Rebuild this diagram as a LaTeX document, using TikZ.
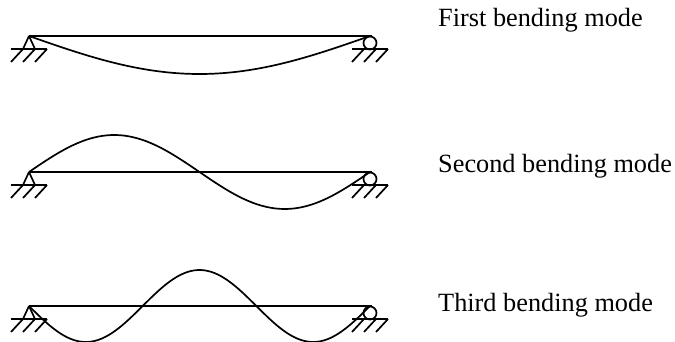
\documentclass[tikz,border=0pt]{standalone}
\usepackage{fontspec}
\setmainfont{Liberation Serif}
\tikzset{
  line/.style={line width=1.7pt,line join=miter},
  modelabel/.style={anchor=base west,inner sep=0pt,font=\fontsize{26.3}{30}\selectfont},
}
\begin{document}
\begin{tikzpicture}[x=1pt,y=-1pt]
\useasboundingbox (0,0) rectangle (675,342);
\clip (0,0) rectangle (675,342);
\foreach \y/\k/\a in {36/1/-38,172/2/37,306/3/36}{
  \begin{scope}[yshift=-\y pt,line]
    \coordinate (L) at (29,0);
    \coordinate (R) at (370,0);
    \node[circle,draw,line width=1.7pt,minimum size=13pt,inner sep=0pt] (roll) at (370,7) {};
    \draw (L) -- (372,0);
    \draw (L) -- (23,13) (L) -- (35,13);
    \draw (11,13) -- (47,13) (352,13) -- (388,13);
    \foreach \h in {11,23,35}{\draw (\h,26) -- (\h+12,13);}
    \foreach \h in {352,364,376}{\draw (\h,26) -- (\h+12,13);}
  \end{scope}
}
\draw[line,smooth] plot[domain=0:1,samples=60] ({29+341*\x},{36+38*sin(180*\x)});
\draw[line,smooth] plot[domain=0:1,samples=80] ({29+341*\x},{172-37*sin(360*\x)});
\draw[line,smooth] plot[domain=0:1,samples=100] ({29+341*\x},{306+36*sin(540*\x)});
\node[modelabel] (m1) at (438,27) {First bending mode};
\node[modelabel] (m2) at (438,173) {Second bending mode};
\node[modelabel] (m3) at (438,311) {Third bending mode};
\end{tikzpicture}
\end{document}
